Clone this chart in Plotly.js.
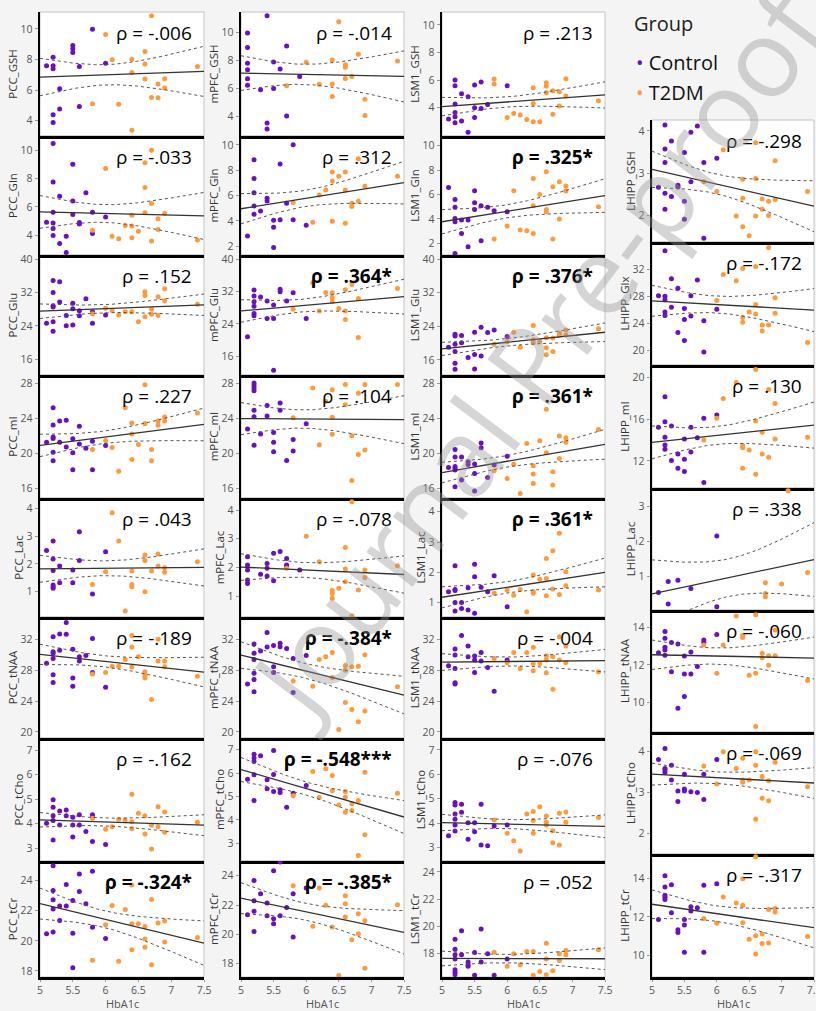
<!DOCTYPE html>
<html><head><meta charset="utf-8">
<script src="https://cdn.plot.ly/plotly-3.0.1.min.js"></script>
<style>html,body{margin:0;padding:0;background:#f4f4f4;}#chart{width:816px;height:1011px;}</style>
</head><body><div id="chart"></div><script>
// ---------- DATA (HbA1c, metabolite) ----------
const PCC_GSH_C=[[5.1,7.59],[5.2,8.15],[5.2,7.59],[5.2,7.39],[5.2,4.39],[5.2,3.89],[5.3,6.09],[5.3,4.76],[5.5,8.91],[5.5,8.70],[5.5,8.46],[5.6,7.54],[5.6,4.93],[5.8,9.98],[6.0,7.76]];
const PCC_GSH_T=[[6.0,9.63],[6.1,7.98],[5.8,5.11],[6.2,5.07],[6.4,8.02],[6.4,7.15],[6.4,3.37],[6.6,8.52],[6.6,7.70],[6.6,6.72],[6.7,10.85],[6.7,5.52],[6.8,5.50],[6.8,6.39],[6.9,6.74],[6.9,6.13],[7.4,7.54]];
const PCC_Gln_C=[[5.2,10.47],[5.2,7.76],[5.3,6.75],[5.5,9.01],[5.7,6.99],[5.5,6.42],[5.2,5.62],[5.5,5.46],[5.8,5.62],[6.0,5.29],[5.1,4.92],[5.2,4.85],[5.2,4.47],[5.6,4.89],[5.6,4.78],[5.8,4.12],[5.2,3.98],[5.4,3.93],[5.3,3.41],[5.4,2.78]];
const PCC_Gln_T=[[6.0,8.71],[6.6,9.11],[6.7,10.0],[6.6,7.36],[6.7,6.24],[5.8,4.35],[6.1,3.93],[6.2,3.74],[6.3,4.68],[6.4,5.41],[6.4,4.64],[6.4,3.81],[6.5,4.28],[6.6,5.58],[6.7,3.58],[6.8,5.15],[6.8,4.40],[6.9,5.53],[7.4,3.65]];
const PCC_Glu_C=[[5.2,34.9],[5.3,34.6],[5.2,32.0],[5.3,29.7],[5.5,29.4],[5.7,30.5],[5.2,28.8],[5.2,28.5],[5.5,28.1],[5.6,27.6],[5.8,27.4],[5.4,26.5],[5.6,26.4],[6.0,26.6],[5.1,24.6],[5.2,25.0],[5.4,24.0],[5.5,24.2],[5.8,24.6],[5.2,22.7]];
const PCC_Glu_T=[[6.0,28.2],[5.8,26.9],[6.1,27.7],[6.2,26.6],[6.3,27.4],[6.4,27.4],[6.5,25.0],[6.6,32.2],[6.6,31.3],[6.6,26.2],[6.7,26.8],[6.7,28.0],[6.8,31.0],[6.8,26.5],[6.9,32.9],[6.9,30.0],[7.4,29.2]];
const PCC_mI_C=[[5.2,25.26],[5.2,23.28],[5.3,23.73],[5.4,23.81],[5.6,23.12],[5.1,21.30],[5.2,21.90],[5.2,21.71],[5.3,21.30],[5.5,21.68],[5.4,20.76],[5.6,21.10],[5.7,20.61],[5.8,21.41],[6.0,20.91],[5.2,20.15],[5.5,20.08],[5.2,19.16],[5.5,18.13],[5.8,18.13]];
const PCC_mI_T=[[6.3,25.26],[6.6,27.89],[6.4,23.50],[6.6,23.43],[6.8,23.73],[6.9,24.19],[6.9,23.73],[6.8,23.24],[7.4,24.65],[6.4,22.25],[6.0,21.49],[5.8,20.46],[6.1,20.69],[6.5,21.03],[6.7,20.46],[6.4,19.31],[6.7,19.16],[6.2,17.98]];
const PCC_Lac_C=[[5.1,2.48],[5.2,2.82],[5.2,2.18],[5.2,1.76],[5.2,1.24],[5.2,1.18],[5.2,1.12],[5.3,1.92],[5.3,1.32],[5.5,1.78],[5.5,1.32],[5.6,3.16],[5.6,2.12],[5.8,0.92],[6.0,2.44]];
const PCC_Lac_T=[[6.1,3.84],[6.2,2.82],[6.0,1.72],[5.8,1.26],[6.3,0.31],[6.4,1.74],[6.4,1.26],[6.4,1.18],[6.6,1.00],[6.6,2.32],[6.6,2.12],[6.7,1.74],[6.8,2.36],[6.8,1.92],[6.9,1.86],[6.9,1.70],[7.4,2.08]];
const PCC_tNAA_C=[[5.4,34.2],[5.3,32.7],[5.4,32.65],[5.2,32.35],[5.8,32.1],[5.3,30.6],[5.5,30.7],[5.2,30.4],[5.2,30.2],[5.2,29.5],[5.6,29.75],[5.6,29.2],[5.7,29.9],[5.1,28.9],[5.8,27.7],[5.2,27.4],[5.2,26.4],[5.5,27.0],[5.5,25.9],[6.0,25.8]];
const PCC_tNAA_T=[[6.4,32.5],[6.8,32.0],[6.4,31.0],[6.5,29.75],[6.3,29.4],[6.1,28.5],[6.2,28.5],[6.4,28.4],[6.8,29.2],[6.9,29.2],[6.9,28.45],[6.6,27.8],[6.6,27.3],[6.6,27.0],[6.0,27.7],[5.8,27.5],[7.4,27.2],[6.7,24.2]];
const PCC_tCho_C=[[5.2,4.97],[5.2,4.67],[5.2,4.32],[5.2,4.13],[5.2,3.34],[5.1,4.02],[5.3,4.52],[5.3,3.95],[5.4,4.56],[5.4,4.32],[5.5,4.26],[5.5,3.95],[5.5,3.46],[5.6,4.36],[5.6,3.95],[5.7,3.68],[5.8,4.36],[5.8,4.27],[5.8,3.27],[6.0,3.15]];
const PCC_tCho_T=[[6.4,5.20],[6.5,4.42],[6.8,4.69],[6.9,4.48],[6.6,4.32],[6.2,4.18],[6.3,4.15],[6.4,4.08],[6.4,3.79],[6.1,3.88],[6.0,3.77],[5.8,4.22],[6.7,3.94],[6.8,3.88],[6.6,3.58],[6.9,3.65],[7.4,4.06],[6.7,2.97]];
const PCC_tCr_C=[[5.2,24.99],[5.8,24.62],[5.6,24.44],[5.2,23.34],[5.4,23.74],[5.6,23.27],[5.2,22.72],[5.5,22.68],[5.7,22.46],[5.3,22.32],[5.4,22.32],[5.2,22.12],[5.3,21.35],[5.8,20.91],[5.2,20.58],[5.1,20.47],[5.5,20.51],[6.0,20.16],[5.5,18.22]];
const PCC_tCr_T=[[6.4,23.71],[6.7,22.74],[6.1,22.35],[6.3,22.08],[6.0,21.07],[6.4,21.13],[6.5,21.13],[6.6,20.96],[6.8,21.18],[6.9,21.31],[6.6,20.12],[7.4,20.23],[6.9,19.92],[6.6,19.57],[6.4,19.41],[5.8,18.71],[6.2,18.64],[6.7,18.42]];

const mPFC_GSH_C=[[5.4,11.19],[5.1,9.95],[5.1,8.91],[5.1,7.79],[5.1,7.32],[5.1,6.68],[5.1,6.23],[5.3,5.90],[5.5,7.89],[5.6,7.39],[5.5,5.99],[5.7,9.03],[5.7,4.02],[5.9,6.85],[5.4,3.53],[5.4,3.10]];
const mPFC_GSH_T=[[5.7,6.18],[6.0,7.87],[6.4,8.03],[6.5,10.76],[6.6,7.68],[6.6,7.51],[6.6,6.70],[6.7,6.85],[6.8,8.43],[6.2,6.30],[6.4,6.32],[6.4,5.42],[6.9,5.23],[6.9,4.07],[7.4,7.96]];
const mPFC_Gln_C=[[5.8,10.0],[5.2,8.83],[5.6,8.49],[5.2,7.34],[5.2,6.22],[5.4,5.78],[5.4,5.57],[5.7,5.39],[5.2,5.18],[5.3,4.77],[5.2,4.51],[5.5,4.04],[5.6,4.09],[5.8,4.09],[5.5,3.49],[6.0,3.65],[5.1,2.81],[5.5,1.90]];
const mPFC_Gln_T=[[6.8,8.91],[6.4,7.86],[6.6,7.86],[6.5,7.53],[6.4,7.14],[7.4,7.53],[6.9,6.74],[6.6,6.43],[6.3,6.43],[6.2,6.04],[5.8,5.44],[6.8,5.55],[6.7,5.39],[6.7,5.13],[6.1,3.88],[6.4,3.96],[6.6,3.80]];
const mPFC_Glu_C=[[5.2,32.4],[5.2,30.9],[5.2,29.5],[5.2,28.4],[5.2,26.6],[5.2,26.0],[5.3,30.7],[5.4,29.7],[5.4,25.3],[5.5,28.7],[5.5,25.3],[5.6,32.6],[5.6,32.0],[5.7,29.7],[5.8,31.7],[6.0,25.3],[5.1,20.8],[5.5,12.5]];
const mPFC_Glu_T=[[6.1,34.2],[6.7,33.8],[6.3,31.8],[6.4,31.7],[6.6,32.5],[6.4,30.5],[6.4,29.5],[6.8,30.3],[7.4,32.8],[5.8,27.6],[6.2,27.2],[6.5,27.8],[6.6,27.2],[6.6,25.1],[6.8,20.6]];
const mPFC_mI_C=[[5.2,28.08],[5.2,27.8],[5.2,27.5],[5.2,27.2],[5.2,24.95],[5.2,24.2],[5.4,25.5],[5.4,24.3],[5.6,25.8],[5.6,24.95],[5.1,22.8],[5.3,22.25],[5.5,22.4],[6.0,23.4],[5.2,20.95],[5.5,21.3],[5.8,21.6],[5.5,20.2],[5.8,20.3],[5.7,19.2]];
const mPFC_mI_T=[[6.1,27.5],[6.4,27.3],[6.6,27.9],[6.8,26.9],[6.9,27.9],[7.4,27.9],[6.3,26.0],[6.6,25.6],[5.8,24.1],[6.4,24.15],[6.4,22.2],[6.7,22.05],[6.2,21.0],[6.9,20.4],[6.8,19.9],[6.7,16.9]];
const mPFC_Lac_C=[[5.1,2.37],[5.1,2.08],[5.1,1.91],[5.1,1.56],[5.1,1.44],[5.3,1.76],[5.4,2.14],[5.4,1.97],[5.4,1.70],[5.5,2.49],[5.5,1.53],[5.6,2.55],[5.7,2.31],[5.7,2.08],[5.7,2.02],[5.9,1.91]];
const mPFC_Lac_T=[[6.0,3.09],[6.2,2.20],[5.7,1.97],[6.6,2.69],[6.6,1.94],[6.6,1.50],[6.7,4.29],[6.9,1.91],[6.9,1.65],[7.4,2.06],[6.4,1.19],[6.4,1.09],[6.4,0.92],[6.5,1.27],[6.8,1.21],[6.7,0.31]];
const mPFC_tNAA_C=[[5.4,32.9],[5.2,31.4],[5.2,30.2],[5.2,29.4],[5.3,30.5],[5.4,31.0],[5.5,31.2],[5.6,31.5],[5.6,31.05],[5.7,30.8],[5.8,29.5],[6.0,29.9],[5.5,28.45],[5.5,27.7],[5.2,27.6],[5.2,26.8],[5.1,26.2],[5.2,25.2],[5.8,25.1]];
const mPFC_tNAA_T=[[6.4,30.3],[6.9,30.0],[6.3,29.75],[6.2,29.4],[6.6,28.6],[6.6,28.0],[6.7,28.45],[6.8,28.5],[6.4,27.05],[5.8,26.6],[6.1,25.9],[7.4,25.85],[6.6,23.8],[6.7,22.9],[6.9,22.7],[6.8,21.3],[6.5,20.3]];
const mPFC_tCho_C=[[5.5,6.97],[5.2,6.81],[5.2,6.64],[5.2,6.5],[5.3,6.74],[5.2,5.93],[5.5,5.94],[5.1,5.74],[5.4,5.71],[5.4,5.33],[5.5,5.21],[5.6,5.29],[5.6,5.17],[5.8,5.14],[6.0,5.47],[5.2,4.83],[5.7,4.54]];
const mPFC_tCho_T=[[6.3,6.19],[6.1,6.07],[6.4,5.9],[6.9,6.04],[6.4,5.24],[6.2,4.96],[5.8,5.03],[6.6,5.21],[6.6,4.97],[7.4,5.14],[6.8,4.83],[6.7,4.69],[6.5,4.64],[6.7,4.4],[6.6,4.33],[6.9,3.36],[6.8,2.47]];
const mPFC_tCr_C=[[5.6,24.93],[5.5,24.34],[5.2,23.68],[5.3,22.77],[5.2,22.3],[5.4,22.14],[5.2,21.57],[5.1,21.34],[5.4,21.27],[5.5,21.07],[5.5,20.73],[5.6,21.27],[5.7,21.84],[5.8,22.77],[6.0,23.16],[5.2,20.2],[5.8,19.82]];
const mPFC_tCr_T=[[5.8,23.32],[6.2,23.16],[6.6,22.64],[6.6,22.09],[6.3,21.98],[7.4,22.02],[6.8,21.41],[6.6,21.18],[6.9,20.93],[6.1,20.55],[6.4,20.5],[6.8,20.05],[6.7,19.64],[6.9,17.7],[6.5,17.2]];

const LSM1_GSH_C=[[5.2,6.01],[5.2,5.6],[5.2,4.27],[5.2,3.66],[5.2,3.35],[5.2,2.91],[5.1,3.18],[5.3,5.02],[5.3,3.03],[5.4,4.8],[5.4,2.23],[5.5,5.64],[5.5,4.0],[5.5,3.3],[5.6,5.86],[5.6,3.95],[5.7,4.24],[6.0,5.6]];
const LSM1_GSH_T=[[5.8,6.08],[5.8,5.72],[6.0,3.3],[6.1,3.59],[6.2,3.47],[6.3,3.15],[6.4,5.45],[6.4,4.31],[6.4,2.98],[6.5,2.98],[6.6,5.81],[6.6,5.57],[6.6,5.09],[6.7,5.23],[6.7,3.52],[6.8,5.16],[6.8,4.12],[6.9,6.1],[6.9,4.85],[7.4,4.51]];
const LSM1_Gln_C=[[5.1,6.58],[5.5,6.31],[5.2,5.6],[5.2,4.95],[5.5,5.33],[5.5,4.78],[5.6,5.08],[5.7,4.95],[5.8,4.67],[6.0,4.59],[5.2,4.04],[5.2,3.77],[5.3,3.91],[5.4,3.91],[5.3,2.81],[5.6,2.21],[5.4,1.72],[5.2,1.17]];
const LSM1_Gln_T=[[6.6,7.87],[6.4,7.32],[6.8,7.05],[6.7,6.64],[6.9,6.69],[6.9,6.28],[6.1,6.31],[6.5,6.01],[6.4,5.08],[7.4,5.0],[6.6,4.78],[6.6,4.59],[6.8,3.99],[6.0,3.42],[6.2,3.09],[6.3,3.03],[6.4,2.81],[5.8,2.35],[6.7,2.35]];
const LSM1_Glu_C=[[5.2,22.1],[5.2,21.7],[5.2,19.7],[5.2,18.0],[5.2,15.2],[5.2,13.8],[5.1,19.0],[5.3,21.8],[5.3,20.1],[5.4,16.6],[5.5,22.6],[5.5,17.3],[5.5,13.85],[5.6,23.8],[5.6,16.95],[5.7,22.5],[5.8,23.1],[6.0,21.55]];
const LSM1_Glu_T=[[6.1,22.6],[5.8,19.7],[6.0,20.4],[6.2,19.0],[6.4,24.2],[6.4,20.8],[6.4,20.1],[6.5,20.4],[6.6,21.3],[6.6,18.9],[6.6,17.2],[6.7,21.2],[6.7,18.0],[6.8,22.35],[6.8,21.95],[6.9,23.1],[6.9,21.95],[7.4,23.4]];
const LSM1_mI_C=[[5.6,21.2],[5.6,20.65],[5.2,20.46],[5.2,19.6],[5.3,19.6],[5.2,18.5],[5.2,18.3],[5.2,18.1],[5.1,18.4],[5.4,18.74],[5.4,19.05],[5.5,18.8],[5.5,17.7],[5.8,18.67],[6.0,19.7],[5.7,17.26],[5.3,16.95],[5.2,16.19],[5.5,15.7]];
const LSM1_mI_T=[[6.6,25.07],[7.4,22.74],[6.8,22.0],[6.9,21.8],[6.9,21.3],[6.5,21.45],[6.3,21.14],[6.6,20.08],[6.8,19.43],[6.1,18.78],[6.4,18.59],[5.8,18.02],[6.4,17.64],[6.7,17.9],[6.0,17.14],[6.4,16.57],[6.7,16.38],[6.2,15.43]];
const LSM1_Lac_C=[[5.2,2.22],[5.5,2.27],[5.5,1.86],[5.8,1.89],[5.1,1.36],[5.2,1.44],[5.2,1.40],[5.4,1.49],[5.6,1.51],[5.7,1.36],[5.2,1.01],[5.3,1.01],[5.3,0.81],[5.2,0.73],[5.4,0.76],[5.5,0.65],[6.0,0.87]];
const LSM1_Lac_T=[[6.8,3.29],[6.7,2.71],[6.6,2.46],[6.9,2.02],[6.4,1.91],[6.5,1.77],[6.6,1.80],[7.4,1.42],[6.9,1.56],[6.7,1.45],[6.4,1.36],[6.4,1.31],[6.0,1.42],[6.2,1.44],[5.8,1.31],[6.1,1.25],[6.6,1.23],[6.8,1.27],[6.3,0.70]];
const LSM1_tNAA_C=[[5.3,32.5],[5.2,30.74],[5.2,29.96],[5.2,28.23],[5.2,26.37],[5.2,26.2],[5.1,28.58],[5.4,31.13],[5.4,29.75],[5.5,29.83],[5.5,29.31],[5.5,27.71],[5.6,30.31],[5.6,29.18],[5.7,28.36],[5.8,25.28],[6.0,29.31]];
const LSM1_tNAA_T=[[6.8,32.35],[6.9,31.13],[6.1,30.31],[6.3,30.31],[6.4,30.96],[6.6,29.88],[6.7,29.75],[5.8,29.53],[6.0,28.97],[6.4,28.88],[6.5,28.88],[6.6,29.31],[6.8,29.31],[6.9,29.0],[6.2,28.23],[6.4,27.93],[6.6,27.67],[7.4,27.8],[6.7,25.54]];
const LSM1_tCho_C=[[5.2,4.84],[5.2,4.74],[5.2,4.37],[5.2,4.15],[5.2,3.92],[5.2,3.67],[5.3,4.77],[5.3,4.44],[5.1,3.48],[5.4,4.01],[5.4,3.33],[5.5,4.01],[5.5,3.64],[5.6,4.77],[5.6,3.1],[5.7,3.07],[5.8,3.88],[6.0,3.92]];
const LSM1_tCho_T=[[6.5,4.67],[6.4,4.47],[6.3,4.37],[6.8,4.4],[6.9,4.45],[6.6,4.29],[7.4,4.23],[5.8,4.12],[6.4,4.1],[6.6,4.03],[6.9,4.03],[6.6,3.92],[6.0,3.58],[6.4,3.58],[6.7,3.68],[6.1,3.27],[6.7,3.19],[6.8,3.1],[6.2,2.85]];
const LSM1_tCr_C=[[5.3,19.68],[5.6,19.82],[5.2,19.07],[5.2,18.34],[5.2,17.93],[5.2,17.61],[5.2,16.83],[5.2,16.64],[5.2,16.47],[5.3,17.93],[5.4,17.39],[5.4,17.2],[5.4,17.08],[5.5,18.1],[5.5,16.42],[5.6,17.39],[5.7,18.0],[6.0,17.61],[5.8,16.42]];
const LSM1_tCr_T=[[6.6,18.78],[5.8,18.12],[6.1,18.0],[6.3,18.17],[6.4,18.17],[6.9,18.24],[6.9,17.93],[6.8,18.0],[7.4,18.29],[6.6,17.61],[6.8,17.51],[6.0,17.08],[6.2,17.2],[6.7,16.76],[6.5,16.71],[6.4,16.42],[6.6,16.47]];

const LHIPP_GSH_C=[[5.2,4.14],[5.7,4.12],[5.6,3.97],[5.3,3.76],[5.2,3.57],[5.5,3.49],[5.2,3.25],[5.8,3.25],[6.0,3.35],[5.1,2.66],[5.2,2.52],[5.3,2.44],[5.4,2.71],[5.4,2.67],[5.6,2.79],[5.5,2.33],[5.2,2.14],[5.5,1.90],[5.8,1.45]];
const LHIPP_GSH_T=[[6.1,3.55],[6.6,3.72],[6.9,3.29],[5.8,2.79],[6.0,2.56],[6.4,2.85],[6.6,2.87],[6.4,2.40],[6.7,2.38],[6.8,2.33],[6.9,2.37],[7.4,2.56],[6.7,2.14],[6.3,1.98],[6.6,1.98],[6.8,1.99],[6.4,1.72],[6.5,1.51]];
const LHIPP_Glx_C=[[5.2,34.7],[5.3,30.6],[5.7,30.4],[5.4,29.2],[5.1,28.1],[5.2,28.0],[5.2,27.5],[5.6,28.1],[5.3,26.4],[5.2,25.7],[5.2,25.2],[5.5,26.2],[5.6,25.1],[6.0,26.1],[5.5,24.6],[5.8,24.4],[5.4,22.7],[5.5,21.5],[5.8,19.8]];
const LHIPP_Glx_T=[[6.8,35.2],[6.4,32.1],[6.6,32.4],[6.1,31.2],[6.3,30.3],[6.0,27.4],[6.9,27.8],[6.6,26.8],[6.5,25.7],[6.6,25.4],[6.9,25.5],[6.4,24.9],[6.4,24.2],[6.7,23.8],[6.8,23.8],[6.7,22.9],[7.4,21.2]];
const LHIPP_mI_C=[[5.2,18.15],[5.2,15.76],[5.2,14.26],[5.2,13.53],[5.2,13.12],[5.1,15.22],[5.3,15.35],[5.3,12.03],[5.4,12.67],[5.4,11.3],[5.5,14.1],[5.5,12.16],[5.5,10.98],[5.6,15.22],[5.6,12.86],[5.7,14.23],[5.8,16.08],[5.8,9.93],[6.0,16.4]];
const LHIPP_mI_T=[[6.6,20.76],[6.3,19.52],[6.8,18.85],[6.1,17.99],[6.9,17.51],[6.0,16.08],[6.6,15.82],[5.8,14.01],[6.7,14.74],[6.9,14.1],[7.4,14.26],[6.4,13.47],[6.4,13.27],[6.5,13.05],[6.7,12.67],[6.8,12.35],[6.4,11.3],[6.6,10.73]];
const LHIPP_Lac_C=[[6.0,2.16],[5.1,0.55],[5.25,0.86],[5.4,0.90],[5.6,0.66],[5.25,0.22],[6.0,0.14]];
const LHIPP_Lac_T=[[7.1,3.45],[7.4,1.12],[6.75,0.83],[7.0,0.79],[6.75,0.52],[6.75,0.43]];
const LHIPP_tNAA_C=[[5.2,13.79],[5.2,13.43],[5.2,12.95],[5.2,12.8],[5.2,12.52],[5.1,12.66],[5.3,13.2],[5.4,13.13],[5.5,12.48],[5.6,12.7],[5.7,11.91],[5.3,11.64],[5.5,11.52],[5.6,11.52],[5.5,10.3],[5.4,9.68],[5.8,13.34],[5.8,13.21],[6.0,13.64]];
const LHIPP_tNAA_T=[[6.3,14.63],[6.6,14.7],[6.4,13.59],[6.4,13.48],[6.9,13.88],[5.8,13.07],[6.1,13.07],[6.7,12.63],[6.7,12.39],[6.8,12.5],[6.9,12.5],[6.8,11.98],[6.0,11.55],[6.6,11.55],[6.5,11.45],[7.4,11.16],[6.6,8.7]];
const LHIPP_tCho_C=[[5.2,4.08],[5.1,3.81],[6.0,3.81],[5.3,3.67],[5.2,3.59],[5.2,3.55],[5.2,3.49],[5.5,3.45],[5.8,3.45],[5.3,3.31],[5.4,3.04],[5.5,3.09],[5.5,3.04],[5.6,3.02],[5.7,3.0],[5.4,2.78],[5.8,2.83]];
const LHIPP_tCho_T=[[6.1,4.0],[6.6,4.0],[6.4,3.84],[6.9,3.74],[5.8,3.65],[6.6,3.67],[6.3,3.59],[6.7,3.39],[6.4,3.31],[6.4,3.25],[6.5,3.31],[6.8,3.29],[6.0,3.21],[7.4,3.14],[6.7,2.86],[6.8,2.8],[6.6,2.35]];
const LHIPP_tCr_C=[[5.2,14.12],[5.2,13.54],[5.2,13.11],[5.2,13.01],[5.2,12.89],[5.3,13.66],[5.8,13.63],[6.0,13.71],[5.1,11.86],[5.3,12.21],[5.4,11.33],[5.4,11.19],[5.5,11.87],[5.5,11.58],[5.6,12.52],[5.6,12.3],[5.7,12.47],[5.5,10.17],[5.8,10.17]];
const LHIPP_tCr_T=[[6.6,15.1],[6.4,13.97],[6.1,13.03],[6.3,12.72],[6.4,12.6],[6.8,12.38],[6.9,12.43],[6.9,12.25],[5.8,11.91],[6.0,11.67],[6.4,11.7],[7.4,10.99],[6.6,11.02],[6.5,10.85],[6.7,11.11],[6.7,10.63],[6.8,10.65],[6.6,10.09]];

const rhoPCC=['-.006','-.033','.152','.227','.043','-.189','-.162','-.324*'];
const rhoMPFC=['-.014','.312','.364*','.104','-.078','-.384*','-.548***','-.385*'];
const rhoLSM1=['.213','.325*','.376*','.361*','.361*','-.004','-.076','.052'];
const rhoLHIPP=['-.298','-.172','.130','.338','-.060','-.069','-.317'];
const xTicks=[5,5.5,6,6.5,7,7.5];
const groups=['Control','T2DM'];

// ---------- PANEL SETUP ----------
const panels=[
 ['PCC_GSH',0,0,PCC_GSH_C,PCC_GSH_T,rhoPCC[0],[3,11.1],[4,6,8,10]],
 ['PCC_Gln',0,1,PCC_Gln_C,PCC_Gln_T,rhoPCC[1],[2.6,11],[4,6,8,10]],
 ['PCC_Glu',0,2,PCC_Glu_C,PCC_Glu_T,rhoPCC[2],[12.2,41],[16,24,32,40]],
 ['PCC_mI',0,3,PCC_mI_C,PCC_mI_T,rhoPCC[3],[14.9,29],[16,20,24,28]],
 ['PCC_Lac',0,4,PCC_Lac_C,PCC_Lac_T,rhoPCC[4],[0.09,4.37],[1,2,3,4]],
 ['PCC_tNAA',0,5,PCC_tNAA_C,PCC_tNAA_T,rhoPCC[5],[19.2,34.9],[20,24,28,32]],
 ['PCC_tCho',0,6,PCC_tCho_C,PCC_tCho_T,rhoPCC[6],[2.48,7.49],[3,4,5,6,7]],
 ['PCC_tCr',0,7,PCC_tCr_C,PCC_tCr_T,rhoPCC[7],[17.6,25.3],[18,20,22,24]],
 ['mPFC_GSH',1,0,mPFC_GSH_C,mPFC_GSH_T,rhoMPFC[0],[2.6,11.45],[4,6,8,10]],
 ['mPFC_Gln',1,1,mPFC_Gln_C,mPFC_Gln_T,rhoMPFC[1],[1.3,10.7],[2,4,6,8,10]],
 ['mPFC_Glu',1,2,mPFC_Glu_C,mPFC_Glu_T,rhoMPFC[2],[11.3,41.1],[16,24,32,40]],
 ['mPFC_mI',1,3,mPFC_mI_C,mPFC_mI_T,rhoMPFC[3],[14.9,29],[16,20,24,28]],
 ['mPFC_Lac',1,4,mPFC_Lac_C,mPFC_Lac_T,rhoMPFC[4],[0.27,4.42],[1,2,3,4]],
 ['mPFC_tNAA',1,5,mPFC_tNAA_C,mPFC_tNAA_T,rhoMPFC[5],[19.2,34.9],[20,24,28,32]],
 ['mPFC_tCho',1,6,mPFC_tCho_C,mPFC_tCho_T,rhoMPFC[6],[2.24,7.5],[3,4,5,6,7]],
 ['mPFC_tCr',1,7,mPFC_tCr_C,mPFC_tCr_T,rhoMPFC[7],[17.1,25],[18,20,22,24]],
 ['LSM1_GSH',2,0,LSM1_GSH_C,LSM1_GSH_T,rhoLSM1[0],[1.95,10.94],[4,6,8,10]],
 ['LSM1_Gln',2,1,LSM1_Gln_C,LSM1_Gln_T,rhoLSM1[1],[1.04,10.8],[2,4,6,8,10]],
 ['LSM1_Glu',2,2,LSM1_Glu_C,LSM1_Glu_T,rhoLSM1[2],[12.4,41],[16,24,32,40]],
 ['LSM1_mI',2,3,LSM1_mI_C,LSM1_mI_T,rhoLSM1[3],[14.9,29],[16,20,24,28]],
 ['LSM1_Lac',2,4,LSM1_Lac_C,LSM1_Lac_T,rhoLSM1[4],[0.53,4.45],[1,2,3,4]],
 ['LSM1_tNAA',2,5,LSM1_tNAA_C,LSM1_tNAA_T,rhoLSM1[5],[19.2,34.9],[20,24,28,32]],
 ['LSM1_tCho',2,6,LSM1_tCho_C,LSM1_tCho_T,rhoLSM1[6],[2.44,7.49],[3,4,5,6,7]],
 ['LSM1_tCr',2,7,LSM1_tCr_C,LSM1_tCr_T,rhoLSM1[7],[16.3,24.8],[18,20,22,24]],
 ['LHIPP_GSH',3,0,LHIPP_GSH_C,LHIPP_GSH_T,rhoLHIPP[0],[1.36,4.26],[2,3,4]],
 ['LHIPP_Glx',3,1,LHIPP_Glx_C,LHIPP_Glx_T,rhoLHIPP[1],[17.9,36],[20,24,28,32]],
 ['LHIPP_mI',3,2,LHIPP_mI_C,LHIPP_mI_T,rhoLHIPP[2],[9.4,21.2],[12,16,20]],
 ['LHIPP_Lac',3,3,LHIPP_Lac_C,LHIPP_Lac_T,rhoLHIPP[3],[0.05,3.53],[1,2,3]],
 ['LHIPP_tNAA',3,4,LHIPP_tNAA_C,LHIPP_tNAA_T,rhoLHIPP[4],[8.4,14.95],[10,12,14]],
 ['LHIPP_tCho',3,5,LHIPP_tCho_C,LHIPP_tCho_T,rhoLHIPP[5],[1.5,4.48],[2,3,4]],
 ['LHIPP_tCr',3,6,LHIPP_tCr_C,LHIPP_tCr_T,rhoLHIPP[6],[8.9,15.24],[10,12,14]]
];

const W=816,H=1011;
const colX=[[40,204],[241,404],[442,605],[652,814]];
const rowsA=[12,136,255,375,498,617,738,861,977];
const rowsB=[120,242,365,488,610,732,854,977];
const PURPLE='#6a10bd', ORANGE='#ff9a3c';
const FONT='Open Sans, Noto Sans, sans-serif';

function tq(df){const z=1.959964;return z+(z**3+z)/(4*df)+(5*z**5+16*z**3+3*z)/(96*df*df)+(3*z**7+19*z**5+17*z**3-15*z)/(384*df**3);}
function fitLine(pts){
  const n=pts.length;let mx=0,my=0;pts.forEach(p=>{mx+=p[0];my+=p[1];});mx/=n;my/=n;
  let sxx=0,sxy=0;pts.forEach(p=>{sxx+=(p[0]-mx)**2;sxy+=(p[0]-mx)*(p[1]-my);});
  const b=sxy/sxx,a=my-b*mx;let sse=0;pts.forEach(p=>{sse+=(p[1]-a-b*p[0])**2;});
  const s=Math.sqrt(sse/(n-2)),t=tq(n-2);
  const xs=[],yh=[],lo=[],hi=[];
  for(let k=0;k<=80;k++){const x=5+2.5*k/80,y=a+b*x,se=s*Math.sqrt(1/n+(x-mx)**2/sxx);xs.push(x);yh.push(y);lo.push(y-t*se);hi.push(y+t*se);}
  return {xs,yh,lo,hi};
}

const data=[];
const layout={width:W,height:H,margin:{l:0,r:0,t:0,b:0},paper_bgcolor:'#f4f4f4',plot_bgcolor:'#ffffff',
  showlegend:false,font:{family:FONT,color:'#444'},annotations:[],shapes:[]};

panels.forEach((p,i)=>{
  const [name,col,row,C,T,rho,yr,yt]=p;
  const k=i+1, xa='x'+k, ya='y'+k;
  const rows=col<3?rowsA:rowsB;
  const nRows=col<3?8:7;
  const isBottom=row===nRows-1;
  const y0=rows[row],y1=rows[row+1];
  layout['xaxis'+k]={domain:[colX[col][0]/W,colX[col][1]/W],range:[5,7.5],anchor:ya,
    showline:true,linecolor:'#000',linewidth:2.5,showgrid:false,zeroline:false,fixedrange:true,
    tickvals:xTicks,ticktext:xTicks.map(String),ticks:isBottom?'outside':'',ticklen:2,tickcolor:'#999',
    showticklabels:isBottom,ticklabeloverflow:'allow',tickfont:{size:10.5,color:'#555',family:FONT}};
  layout['yaxis'+k]={domain:[1-y1/H,1-y0/H],range:yr,anchor:xa,
    showline:true,linecolor:'#000',linewidth:2.5,showgrid:false,zeroline:false,fixedrange:true,
    tickvals:yt,ticks:'outside',ticklen:3,tickcolor:'#999',tickfont:{size:10.5,color:'#555',family:FONT},
    title:{text:name,font:{size:11.5,color:'#333',family:FONT},standoff:1}};
  layout.shapes.push({type:'rect',xref:xa+' domain',yref:ya+' domain',x0:0,x1:1,y0:0,y1:1,
    line:{color:'#c4c4c4',width:1},fillcolor:'rgba(0,0,0,0)',layer:'below'});
  data.push({type:'scatter',mode:'markers',xaxis:xa,yaxis:ya,name:groups[0],x:C.map(d=>d[0]),y:C.map(d=>d[1]),
    marker:{color:PURPLE,size:5},hoverinfo:'skip'});
  data.push({type:'scatter',mode:'markers',xaxis:xa,yaxis:ya,name:groups[1],x:T.map(d=>d[0]),y:T.map(d=>d[1]),
    marker:{color:ORANGE,size:5},hoverinfo:'skip'});
  const f=fitLine(C.concat(T));
  data.push({type:'scatter',mode:'lines',xaxis:xa,yaxis:ya,x:f.xs,y:f.hi,line:{color:'#555',width:1,dash:'dot'},hoverinfo:'skip'});
  data.push({type:'scatter',mode:'lines',xaxis:xa,yaxis:ya,x:f.xs,y:f.lo,line:{color:'#555',width:1,dash:'dot'},hoverinfo:'skip'});
  data.push({type:'scatter',mode:'lines',xaxis:xa,yaxis:ya,x:f.xs,y:f.yh,line:{color:'#333',width:1.3},hoverinfo:'skip'});
  const sig=rho.indexOf('*')>=0;
  const txt='ρ = '+rho;
  layout.annotations.push({xref:xa+' domain',yref:ya+' domain',x:1-10/164,y:1-21/(y1-y0),xanchor:'right',yanchor:'middle',
    showarrow:false,text:sig?'<b>'+txt+'</b>':txt,font:{size:19,color:'#000',family:FONT}});
  if(isBottom){
    layout.annotations.push({xref:xa+' domain',yref:'paper',x:0.5,y:1-1003/H,xanchor:'center',yanchor:'middle',
      showarrow:false,borderpad:0,text:'HbA1c',font:{size:11,color:'#555',family:FONT}});
  }
});

// legend
layout.annotations.push({xref:'paper',yref:'paper',x:632/W,y:1-23/H,xanchor:'left',yanchor:'middle',showarrow:false,
  text:'Group',font:{size:20,color:'#222',family:FONT}});
layout.annotations.push({xref:'paper',yref:'paper',x:634/W,y:1-62/H,xanchor:'left',yanchor:'middle',showarrow:false,
  text:'<span style="color:'+PURPLE+'">•</span> '+groups[0],font:{size:20,color:'#111',family:FONT}});
layout.annotations.push({xref:'paper',yref:'paper',x:634/W,y:1-93/H,xanchor:'left',yanchor:'middle',showarrow:false,
  text:'<span style="color:'+ORANGE+'">•</span> '+groups[1],font:{size:20,color:'#111',family:FONT}});
// watermark
layout.annotations.push({xref:'paper',yref:'paper',x:537/W,y:1-352/H,xanchor:'center',yanchor:'middle',showarrow:false,
  text:'Journal Pre-proof',textangle:-53,font:{size:108,color:'rgba(150,150,150,0.40)',family:FONT}});

Plotly.newPlot('chart',data,layout,{staticPlot:true,displayModeBar:false});
</script></body></html>
